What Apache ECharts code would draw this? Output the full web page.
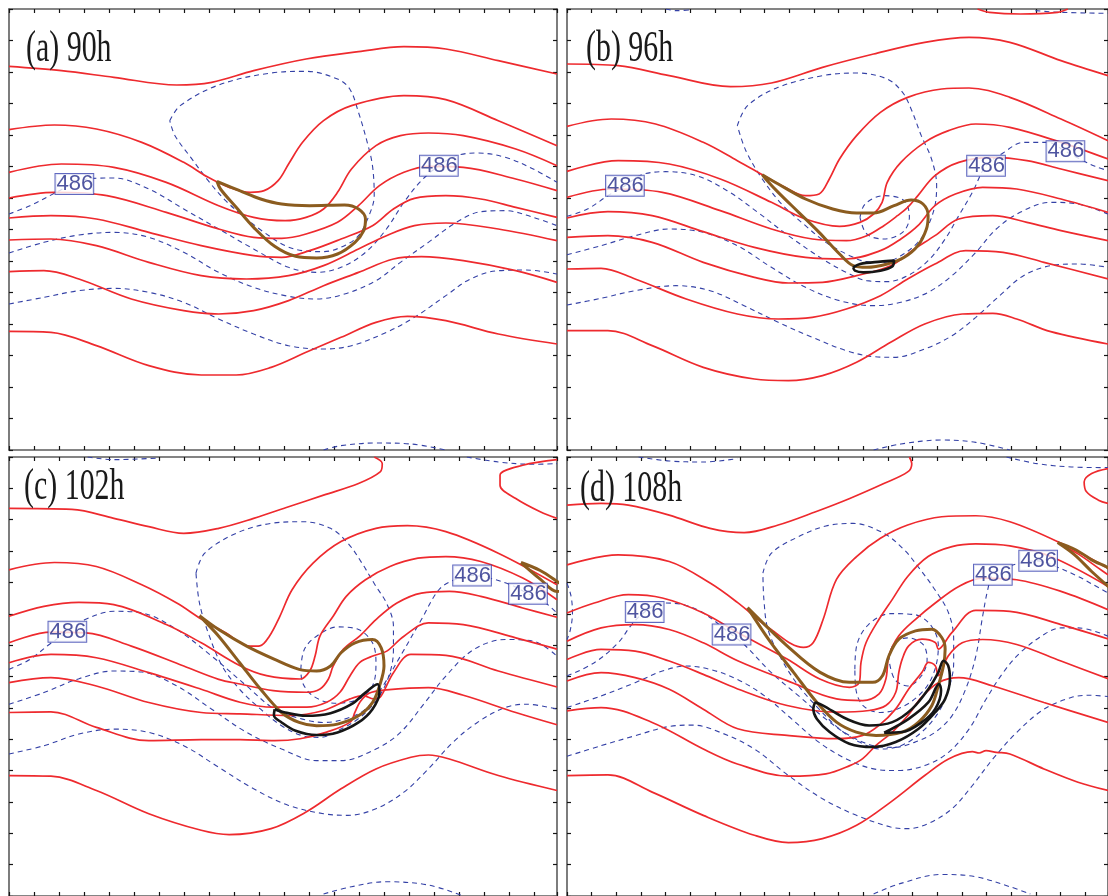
<!DOCTYPE html>
<html>
<head>
<meta charset="utf-8">
<script src="https://cdn.jsdelivr.net/npm/echarts@6/dist/echarts.min.js"></script>
<style>
  html, body { margin: 0; padding: 0; background: #fff; }
  #chart { width: 1108px; height: 896px; }
</style>
</head>
<body>
<div id="chart"></div>
<script>
// Four forecast panels of the same contour map. Coordinates are in panel grid units
// (x grows eastward, y grows southward); each panel has its own unit width.

const panelTitles = ['(a) 90h', '(b) 96h', '(c) 102h', '(d) 108h'];
const contourValue = '486';

// ---------------- (a) 90h ----------------
const redA = [
  [[0,172],[150,185],[300,205],[480,228],[580,220],[700,185],[850,150],[1000,128],[1130,113],[1250,120],[1400,155],[1568,195]],
  [[0,362],[130,348],[250,360],[380,400],[500,460],[570,505],[630,535],[690,550],[730,545],[770,515],[800,465],[840,400],[900,335],[980,290],[1130,260],[1250,272],[1400,335],[1568,410]],
  [[0,490],[150,465],[300,475],[450,520],[600,590],[700,625],[790,635],[850,625],[900,600],[940,550],[980,480],[1050,410],[1120,380],[1200,372],[1300,380],[1450,420],[1568,470]],
  [[0,567],[130,550],[280,560],[450,610],[600,660],[700,685],[780,688],[850,675],[940,640],[1000,590],[1060,530],[1130,490],[1200,472],[1300,475],[1450,510],[1568,545]],
  [[0,627],[120,620],[250,630],[400,670],[550,710],[700,740],[780,745],[860,725],[950,690],[1040,650],[1100,600],[1160,568],[1250,560],[1350,570],[1450,595],[1568,625]],
  [[0,693],[120,690],[250,710],[400,760],[550,800],[680,810],[800,800],[900,770],[1000,720],[1080,680],[1160,650],[1250,642],[1400,660],[1568,695]],
  [[0,788],[100,785],[200,810],[350,870],[500,905],[600,915],[700,905],[800,875],[900,830],[1000,790],[1100,750],[1180,743],[1300,755],[1450,785],[1568,820]],
  [[0,967],[120,970],[250,1010],[400,1070],[550,1098],[650,1098],[750,1075],[850,1030],[950,985],[1050,940],[1140,922],[1250,935],[1400,975],[1568,1005]]
];
const blueA = [
  [[460,335],[490,290],[600,228],[750,192],[850,187],[940,210],[975,240],[1000,310],[1025,400],[1040,470],[1045,560],[1030,620],[1000,680],[960,710],[900,728],[840,725],[790,710],[730,670],[680,630],[620,575],[570,515],[520,445],[475,380],[460,335]],
  [[0,615],[60,590],[135,550],[187,522],[240,508],[300,507],[400,540],[500,600],[600,660],[700,720],[800,775],[880,790],[950,775],[1020,730],[1080,660],[1130,580],[1180,515],[1230,470],[1280,440],[1340,432],[1420,445],[1500,480],[1568,520]],
  [[0,732],[100,700],[200,678],[300,670],[400,685],[500,730],[600,790],[700,835],[800,862],[880,870],[960,855],[1050,815],[1120,760],[1200,700],[1280,640],[1350,608],[1420,605],[1500,625],[1568,650]],
  [[0,885],[100,865],[200,845],[300,838],[400,850],[500,880],[600,930],[700,975],[800,1010],[900,1020],[980,1010],[1080,970],[1160,925],[1250,860],[1320,810],[1400,785],[1480,783],[1568,795]],
  [[900,1323],[950,1310],[1050,1302],[1150,1305],[1250,1323]]
];
const brownA = [
  [[595,517],[660,545],[720,570],[780,585],[860,590],[960,588],[1000,600],[1020,630],[1015,665],[990,700],[940,735],[880,747],[820,742],[760,712],[700,655],[650,595],[605,540],[595,517]]
];
const blackA = [];
const labelA = [[187,525],[1230,470]];

// ---------------- (b) 96h ----------------
const redB = [
  [[0,165],[150,170],[300,200],[480,233],[600,222],[750,175],[900,135],[1050,100],[1180,85],[1300,100],[1450,155],[1588,200]],
  [[0,352],[130,330],[260,345],[400,400],[500,455],[575,498],[640,535],[700,560],[740,555],[770,510],[800,450],[850,380],[920,310],[1000,265],[1100,240],[1180,237],[1300,265],[1450,330],[1588,395]],
  [[0,487],[150,455],[300,465],[450,510],[600,580],[700,630],[800,652],[860,640],[900,615],[925,580],[940,520],[980,460],[1050,400],[1120,365],[1200,345],[1300,355],[1450,400],[1588,450]],
  [[0,565],[130,540],[280,550],[450,605],[600,660],[720,690],[820,695],[880,680],[930,650],[970,620],[1000,595],[1030,560],[1080,500],[1150,460],[1250,445],[1350,455],[1450,480],[1588,515]],
  [[0,627],[120,608],[250,620],[400,668],[550,715],[700,745],[820,750],[920,725],[980,690],[1030,650],[1080,590],[1140,555],[1220,535],[1320,540],[1450,570],[1588,610]],
  [[0,685],[120,680],[250,700],[400,760],[550,805],[650,822],[750,820],[850,800],[950,770],[1020,720],[1080,680],[1150,630],[1250,620],[1350,640],[1450,665],[1588,695]],
  [[0,780],[100,778],[200,810],[350,870],[500,915],[620,930],[720,925],[820,900],[920,860],[1000,810],[1080,765],[1170,725],[1280,730],[1400,760],[1588,810]],
  [[0,965],[120,965],[250,1010],[400,1075],[550,1110],[650,1115],[750,1100],[850,1060],[950,1000],[1050,945],[1160,915],[1250,913],[1320,930],[1420,968],[1588,1005]],
  [[1205,0],[1240,10],[1330,15],[1440,10],[1470,0]]
];
const blueB = [
  [[500,350],[530,290],[620,235],[750,200],[850,192],[940,210],[985,250],[1010,300],[1040,380],[1070,450],[1085,530],[1080,590],[1060,650],[1030,700],[980,740],[930,760],[880,758],[830,740],[760,700],[700,650],[630,585],[570,505],[525,425],[500,350]],
  [[860,625],[875,585],[930,560],[990,575],[1005,625],[985,670],[930,690],[880,675],[860,625]],
  [[0,622],[60,600],[120,560],[170,530],[220,497],[290,488],[380,500],[470,545],[560,610],[650,680],[750,750],[820,790],[880,815],[940,818],[1000,800],[1060,755],[1110,690],[1150,620],[1190,550],[1230,470],[1280,432],[1340,400],[1410,400],[1463,427],[1515,455],[1550,472],[1588,485]],
  [[0,737],[100,710],[200,680],[300,660],[400,670],[500,710],[600,775],[700,835],[800,875],[900,890],[980,880],[1060,850],[1130,800],[1200,730],[1260,660],[1330,610],[1420,580],[1500,585],[1588,615]],
  [[0,888],[100,868],[200,845],[320,830],[420,845],[520,890],[620,940],[720,985],[820,1025],[900,1043],[960,1045],[1050,1020],[1130,980],[1200,925],[1270,860],[1340,800],[1420,770],[1500,765],[1588,775]],
  [[900,1323],[980,1305],[1100,1293],[1200,1300],[1300,1323]],
  [[290,0],[320,5],[360,3]],
  [[1375,5],[1450,10],[1588,13]]
];
const brownB = [
  [[573,497],[620,525],[700,570],[780,600],[850,612],[900,612],[960,590],[1010,573],[1045,585],[1060,620],[1055,660],[1030,710],[990,745],[940,765],[880,775],[840,770],[800,735],[740,670],[680,610],[620,550],[585,512],[573,497]]
];
const blackB = [
  [[840,775],[860,765],[920,758],[960,755],[955,772],[920,785],[870,790],[845,785],[840,775]]
];
const labelB = [[170,530],[1230,470],[1463,427]];

// ---------------- (c) 102h ----------------
const redC = [
  [[1045,0],[1068,20],[1062,45],[1000,80],[900,115],[800,150],[700,185],[600,215],[500,230],[400,210],[300,185],[180,158],[0,155]],
  [[0,340],[130,318],[250,330],[380,385],[480,440],[550,488],[620,530],[690,570],[718,569],[745,540],[775,480],[810,400],[870,320],[950,255],[1050,215],[1140,207],[1250,225],[1400,290],[1568,385]],
  [[0,480],[100,450],[200,438],[300,445],[450,505],[550,560],[661,629],[737,659],[833,669],[861,644],[876,599],[890,539],[928,479],[965,420],[1020,370],[1090,330],[1170,305],[1250,300],[1350,315],[1470,365],[1568,430]],
  [[0,560],[120,528],[220,530],[350,570],[500,630],[600,670],[661,684],[756,704],[852,709],[890,699],[914,669],[928,629],[957,579],[1004,539],[1050,490],[1110,440],[1180,410],[1260,405],[1350,420],[1470,455],[1568,483]],
  [[0,620],[120,595],[250,605],[400,650],[550,700],[661,739],[756,754],[852,754],[909,739],[947,709],[976,659],[1004,619],[1043,599],[1081,585],[1130,540],[1200,500],[1300,505],[1450,545],[1568,579]],
  [[0,680],[120,665],[250,690],[400,740],[550,770],[661,774],[804,779],[900,764],[976,729],[1014,719],[1043,729],[1062,724],[1100,650],[1150,595],[1250,598],[1400,645],[1568,693]],
  [[0,770],[120,768],[250,815],[400,855],[550,852],[661,852],[760,855],[833,849],[909,829],[976,799],[990,769],[1004,739],[1030,712],[1080,702],[1200,695],[1300,718],[1450,770],[1568,807]],
  [[0,960],[120,962],[250,1005],[400,1075],[550,1125],[630,1138],[750,1120],[850,1070],[950,1000],[1050,940],[1150,905],[1200,898],[1260,910],[1400,960],[1568,1005]],
  [[1568,8],[1470,25],[1405,55],[1405,85],[1450,125],[1520,165],[1568,185]]
];
const blueC = [
  [[225,0],[300,8],[430,3]],
  [[1310,0],[1400,15],[1500,22],[1568,20]],
  [[535,350],[560,290],[650,230],[750,200],[840,195],[920,215],[970,260],[1010,320],[1050,390],[1080,440],[1100,510],[1100,580],[1090,650],[1060,720],[1010,780],[950,820],[890,845],[840,840],[780,810],[720,760],[660,700],[610,630],[570,530],[545,440],[535,350]],
  [[835,640],[845,580],[880,540],[940,512],[1000,520],[1040,560],[1050,620],[1040,690],[1000,730],[930,742],[870,720],[840,680],[835,640]],
  [[0,640],[60,610],[115,565],[167,527],[218,490],[300,465],[380,470],[480,520],[580,600],[680,690],[760,760],[840,790],[900,800],[960,790],[1020,760],[1070,690],[1120,600],[1180,490],[1230,400],[1275,370],[1325,357],[1375,365],[1435,385],[1485,412],[1535,440],[1568,470]],
  [[0,745],[100,710],[200,668],[300,645],[380,648],[480,690],[580,760],[680,830],[780,880],[880,915],[950,915],[1050,880],[1120,830],[1190,740],[1250,660],[1330,580],[1420,550],[1500,555],[1568,600]],
  [[0,895],[100,870],[200,835],[300,820],[400,830],[500,870],[600,935],[700,1000],[800,1050],[900,1075],[970,1080],[1050,1060],[1130,1010],[1200,940],[1270,860],[1340,800],[1420,755],[1480,745],[1568,760]],
  [[900,1317],[980,1295],[1080,1280],[1200,1290],[1300,1323]]
];
const brownC = [
  [[545,478],[600,520],[680,570],[760,610],[830,640],[880,645],[920,630],[950,590],[990,560],[1040,550],[1065,575],[1073,630],[1060,690],[1040,740],[1000,780],[940,805],[880,810],[830,800],[780,770],[720,700],[660,620],[600,540],[560,495],[545,478]],
  [[1465,318],[1520,342],[1568,375],[1600,400],[1568,405],[1520,368],[1465,318]]
];
const blackC = [
  [[760,760],[790,770],[850,780],[920,772],[980,745],[1020,710],[1055,685],[1060,710],[1040,760],[1000,800],[940,830],[880,838],[820,825],[780,800],[758,778],[760,760]]
];
const labelC = [[167,527],[1325,357],[1485,412]];

// ---------------- (d) 108h ----------------
const redD = [
  [[1005,0],[1012,20],[1000,45],[930,80],[830,125],[730,165],[620,205],[520,228],[420,215],[300,175],[180,145],[100,140],[0,145]],
  [[0,325],[150,295],[300,315],[420,380],[501,439],[598,519],[694,574],[723,559],[752,489],[791,369],[850,300],[920,245],[1000,205],[1100,180],[1200,177],[1300,195],[1440,255],[1588,335]],
  [[0,470],[80,440],[180,415],[280,425],[400,470],[501,529],[646,609],[742,669],[829,694],[858,679],[863,619],[878,559],[916,489],[955,429],[1000,360],[1060,300],[1130,270],[1200,262],[1300,268],[1420,300],[1588,390]],
  [[0,555],[100,515],[200,505],[300,520],[400,560],[501,614],[646,674],[791,729],[868,734],[916,714],[936,669],[945,599],[974,539],[1023,489],[1081,440],[1150,390],[1220,365],[1320,370],[1450,405],[1588,460]],
  [[0,610],[100,580],[200,585],[300,615],[400,655],[501,699],[646,749],[791,769],[887,764],[936,749],[965,709],[974,649],[984,609],[1003,569],[1042,549],[1081,559],[1090,579],[1129,530],[1200,462],[1300,465],[1450,505],[1588,548]],
  [[0,675],[100,650],[200,665],[300,700],[400,760],[501,819],[646,839],[791,849],[868,839],[916,809],[965,759],[1003,699],[1042,649],[1061,619],[1081,629],[1090,659],[1119,600],[1160,560],[1220,550],[1320,565],[1450,615],[1588,668]],
  [[0,765],[100,755],[250,800],[400,880],[500,925],[650,962],[760,955],[830,930],[868,909],[907,869],[955,829],[1000,780],[1040,725],[1090,680],[1150,665],[1250,690],[1400,740],[1588,800]],
  [[0,960],[120,958],[250,1010],[400,1080],[550,1140],[650,1162],[750,1150],[850,1110],[950,1040],[1050,960],[1120,910],[1190,888],[1210,892],[1230,885],[1260,890],[1300,895],[1400,940],[1500,980],[1588,1005]],
  [[1588,35],[1540,50],[1518,75],[1525,105],[1560,130],[1588,140]],
  [[1445,262],[1500,292],[1560,335],[1588,355]]
];
const blueD = [
  [[210,0],[300,12],[400,15],[500,5]],
  [[1290,0],[1380,20],[1480,30],[1588,32]],
  [[0,380],[12,420],[16,470],[10,520],[0,550]],
  [[575,350],[600,290],[680,240],[760,208],[840,200],[930,230],[990,280],[1030,330],[1080,400],[1120,470],[1135,550],[1135,620],[1120,700],[1090,770],[1040,830],[980,870],[920,880],[860,860],[800,820],[740,760],[680,690],[630,610],[590,520],[578,430],[575,350]],
  [[845,640],[850,570],[885,505],[950,472],[1020,475],[1070,510],[1090,570],[1080,640],[1050,700],[990,750],[920,770],[870,750],[848,700],[845,640]],
  [[945,610],[958,565],[1000,545],[1045,565],[1057,610],[1040,660],[1000,690],[962,670],[945,610]],
  [[0,660],[80,620],[150,560],[190,505],[228,467],[280,440],[340,445],[400,470],[483,535],[520,565],[600,650],[680,720],[760,790],[830,840],[900,870],[960,875],[1020,860],[1080,830],[1130,780],[1170,700],[1200,600],[1220,480],[1235,400],[1250,355],[1300,328],[1383,313],[1435,330],[1500,360],[1545,385],[1588,410]],
  [[0,755],[100,720],[200,680],[280,645],[350,630],[420,640],[500,670],[580,720],[660,790],[740,860],[820,910],[900,940],[970,945],[1050,930],[1120,890],[1180,820],[1230,730],[1280,650],[1330,590],[1400,535],[1450,515],[1500,515],[1588,540]],
  [[0,902],[100,870],[200,840],[300,812],[370,808],[450,830],[550,880],[650,960],[750,1030],[850,1080],[950,1115],[1000,1120],[1060,1105],[1130,1060],[1190,990],[1250,910],[1320,830],[1400,760],[1480,725],[1530,718],[1588,722]],
  [[900,1317],[980,1285],[1100,1258],[1200,1265],[1300,1295],[1360,1317]]
];
const brownD = [
  [[530,454],[598,559],[665,649],[733,739],[791,799],[849,829],[907,839],[984,829],[1032,799],[1071,749],[1090,689],[1105,629],[1110,579],[1100,544],[1071,519],[1023,524],[974,549],[945,599],[926,659],[897,679],[829,679],[743,649],[646,569],[530,454]],
  [[1440,258],[1490,278],[1540,310],[1600,350],[1600,400],[1540,345],[1490,295],[1440,258]]
];
const blackD = [
  [[728,739],[752,749],[820,789],[887,809],[955,799],[1013,759],[1061,699],[1090,649],[1105,614],[1119,629],[1124,669],[1110,729],[1081,769],[1032,819],[965,859],[897,874],[829,864],[771,829],[733,789],[723,759],[728,739]],
  [[931,831],[1003,789],[1061,739],[1092,684],[1098,704],[1081,759],[1042,799],[984,829],[931,831]]
];
const labelD = [[228,467],[483,535],[1250,355],[1383,313]];

// ---------------- layout ----------------
const panels = [
  { red: redA, blue: blueA, brown: brownA, black: blackA, labels: labelA, left: 9,   top: 9,   xMax: 1568, xStep: 71.53 },
  { red: redB, blue: blueB, brown: brownB, black: blackB, labels: labelB, left: 567, top: 9,   xMax: 1588, xStep: 72.45 },
  { red: redC, blue: blueC, brown: brownC, black: blackC, labels: labelC, left: 9,   top: 457, xMax: 1568, xStep: 71.53 },
  { red: redD, blue: blueD, brown: brownD, black: blackD, labels: labelD, left: 567, top: 457, xMax: 1588, xStep: 72.45 }
];
const titlePos = [[26, 49], [586, 49], [24, 487], [580, 489]];
const yMax = 1323, yStep = 94.5;

const frameLine = { show: true, onZero: false, lineStyle: { color: '#5c5c5c', width: 1.6 } };
const frameTick = { show: true, inside: true, length: 4, lineStyle: { color: '#151515', width: 1.2 } };

const grid = [], xAxis = [], yAxis = [], series = [];

function lineSeries(gi, pts, style, z) {
  return {
    type: 'line', xAxisIndex: gi * 2, yAxisIndex: gi * 2, data: pts,
    smooth: 0.35, showSymbol: false, symbol: 'none', silent: true, z: z,
    lineStyle: style, clip: true
  };
}

panels.forEach((p, i) => {
  grid.push({ left: p.left, top: p.top, width: 548, height: 441, containLabel: false });
  ['bottom', 'top'].forEach(pos => xAxis.push({
    type: 'value', gridIndex: i, position: pos, min: 0, max: p.xMax, interval: p.xStep,
    axisLine: frameLine, axisTick: frameTick, axisLabel: { show: false }, splitLine: { show: false }
  }));
  ['left', 'right'].forEach(pos => yAxis.push({
    type: 'value', gridIndex: i, position: pos, min: 0, max: yMax, interval: yStep, inverse: true,
    axisLine: frameLine, axisTick: frameTick, axisLabel: { show: false }, splitLine: { show: false }
  }));

  p.blue.forEach(l => series.push(lineSeries(i, l, { color: '#3441a6', width: 1.1, type: [5, 4] }, 2)));
  p.red.forEach(l => series.push(lineSeries(i, l, { color: '#ee2a2e', width: 1.7 }, 3)));
  p.brown.forEach(l => series.push(lineSeries(i, l, { color: '#8b5c1f', width: 3 }, 4)));
  p.black.forEach(l => series.push(lineSeries(i, l, { color: '#161616', width: 2.6 }, 5)));

  series.push({
    type: 'scatter', xAxisIndex: i * 2, yAxisIndex: i * 2, z: 8, silent: true,
    data: p.labels, symbolSize: 1, itemStyle: { color: 'rgba(0,0,0,0)' },
    label: {
      show: true, position: 'inside', formatter: () => contourValue,
      fontFamily: 'Liberation Sans', fontSize: 22, color: '#232a88',
      backgroundColor: '#ffffff', borderColor: '#3a43b0', borderWidth: 1,
      padding: [1, 0, 0, 1], lineHeight: 19
    }
  });
});

const graphic = panelTitles.map((t, i) => ({
  type: 'text', x: titlePos[i][0], y: titlePos[i][1], scaleX: 0.68, z: 100,
  style: {
    text: t, fontFamily: 'Liberation Serif', fontSize: 44, fontWeight: 'normal',
    fill: '#1a1a1a', verticalAlign: 'middle', align: 'left'
  }
}));

const chart = echarts.init(document.getElementById('chart'), null, { renderer: 'canvas' });
chart.setOption({
  animation: false,
  backgroundColor: '#ffffff',
  grid, xAxis, yAxis, series, graphic
});
</script>
</body>
</html>
